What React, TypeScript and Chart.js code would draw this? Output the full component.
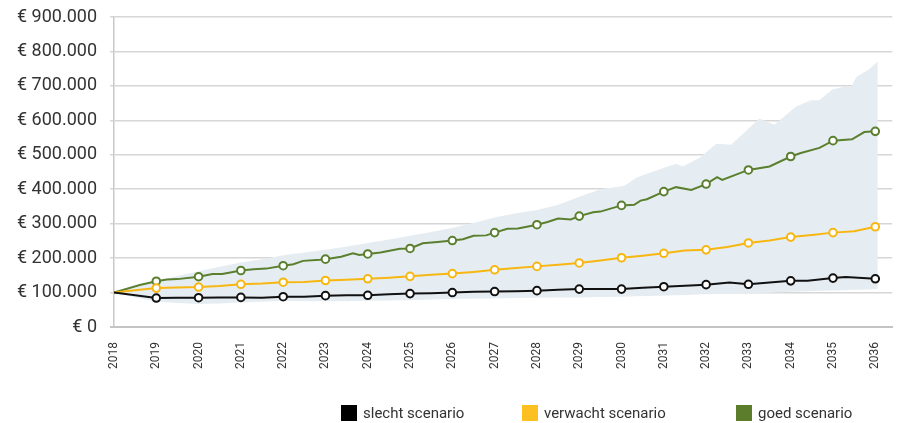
import React, { useEffect, useRef } from "react";
import { Chart, registerables } from "chart.js";

Chart.register(...registerables);

// ---- Data (values in thousands of euro) ----
const yearTicks = [2018, 2019, 2020, 2021, 2022, 2023, 2024, 2025, 2026, 2027, 2028, 2029, 2030, 2031, 2032, 2033, 2034, 2035, 2036];
const yAxisTicks = [0, 100000, 200000, 300000, 400000, 500000, 600000, 700000, 800000, 900000];

const slechtYears = [2018, 2019, 2019.5, 2020, 2020.5, 2021, 2021.5, 2022, 2022.5, 2023, 2023.5, 2024, 2024.5, 2025, 2025.5, 2026, 2026.5, 2027, 2027.5, 2028, 2028.5, 2029, 2029.5, 2030, 2030.5, 2031, 2031.5, 2032, 2032.55, 2033, 2033.5, 2034, 2034.4, 2035, 2035.3, 2036];
const slechtValues = [100, 84, 85, 85, 86, 86, 85, 88, 88, 91, 92, 92, 95, 97, 98, 100, 102, 103, 104, 105.5, 108, 110, 110, 110, 114, 117, 120, 123, 129, 124, 129, 134, 134, 142, 145, 140];

const verwachtYears = [2018, 2019, 2020, 2020.5, 2021, 2021.5, 2022, 2022.5, 2023, 2023.5, 2024, 2024.5, 2025, 2025.5, 2026, 2026.5, 2027, 2027.5, 2028, 2028.5, 2029, 2029.5, 2030, 2030.5, 2031, 2031.5, 2032, 2032.5, 2033, 2033.5, 2034, 2034.5, 2035, 2035.5, 2036];
const verwachtValues = [100, 113, 116, 119, 124, 126, 130, 131, 135, 137, 140, 143, 147, 152, 155, 160, 166, 171, 176, 181, 186, 193, 201, 207, 214, 222, 224, 232, 244, 251, 261, 267, 274, 278, 291];

const goedYears = [2018, 2018.61, 2019, 2019.25, 2019.5, 2020, 2020.33, 2020.56, 2021, 2021.3, 2021.6, 2022, 2022.24, 2022.47, 2022.87, 2023, 2023.37, 2023.65, 2023.8, 2024, 2024.3, 2024.76, 2025, 2025.3, 2025.65, 2026, 2026.25, 2026.5, 2026.8, 2027, 2027.3, 2027.55, 2028, 2028.25, 2028.5, 2028.8, 2029, 2029.33, 2029.5, 2030, 2030.3, 2030.45, 2030.6, 2031, 2031.29, 2031.65, 2032, 2032.26, 2032.38, 2033, 2033.5, 2034, 2034.24, 2034.68, 2035, 2035.45, 2035.74, 2036];
const goedValues = [100, 122, 133, 138, 139, 146, 154, 154, 164, 168, 169.5, 178, 182, 192, 195, 197, 204, 214, 209, 212, 216, 227, 228, 243, 247, 251, 255, 265, 266, 274, 285, 286, 297, 305, 315, 312, 322, 333, 335, 353, 355, 367, 371, 393, 406, 398, 415, 435, 427, 456, 466, 495, 505, 520, 541, 545, 566, 568];

const bandYears = [2018, 2018.5, 2019, 2019.5, 2020, 2020.5, 2021, 2021.5, 2022, 2022.5, 2023, 2023.5, 2024, 2024.5, 2025, 2025.5, 2026, 2026.5, 2027, 2027.5, 2028, 2028.5, 2029, 2029.5, 2030.07, 2030.35, 2030.66, 2031.29, 2031.44, 2031.84, 2032.24, 2032.59, 2033.26, 2033.61, 2034.13, 2034.48, 2034.67, 2034.98, 2035.31, 2035.43, 2035.55, 2035.86, 2036.06];
const bandUpper = [100, 115, 132, 148, 162, 175, 187, 197, 208, 216, 224, 234, 244, 254, 265, 276, 288, 302, 318, 330, 340, 355, 378, 400, 410, 433, 448, 474, 466, 491, 532, 529, 605, 587, 640, 658, 658, 689, 700, 697, 726, 749, 771];
const bandLower = [100, 86, 74, 70, 67, 68, 71, 73, 76, 75, 75, 75, 76, 77, 78, 80, 81, 82, 83, 84, 85, 86, 86, 87, 88, 89, 90, 92, 92, 94, 96, 97, 99, 100, 103, 104, 105, 106, 107, 108, 108, 109, 110];

const seriesNames = ["slecht scenario", "verwacht scenario", "goed scenario"];
const seriesColors = ["#111111", "#f7b710", "#5a7f2e"];
const legendColors = ["#000000", "#fcc020", "#5b7d2c"];

const toPoints = (xs: number[], ys: number[]) => xs.map((x, i) => ({ x, y: ys[i] * 1000 }));

const fmtEuro = (v: number) => {
  if (v === 0) return "€ 0";
  const s = Math.round(v).toString().replace(/\B(?=(\d{3})+(?!\d))/g, ".");
  return "€ " + s;
};

const FONT = "Roboto, 'DejaVu Sans', sans-serif";

export default function App() {
  const canvasRef = useRef<HTMLCanvasElement | null>(null);

  useEffect(() => {
    document.body.style.margin = "0";
    const canvas = canvasRef.current;
    if (!canvas) return;

    const markerRadius = (ctx: any) => {
      const raw = ctx.raw as { x: number } | undefined;
      if (!raw) return 0;
      return Number.isInteger(raw.x) && raw.x > 2018 ? 3.8 : 0;
    };

    const lineDs = (idx: number, xs: number[], ys: number[]) => ({
      label: seriesNames[idx],
      data: toPoints(xs, ys),
      borderColor: seriesColors[idx],
      backgroundColor: "#ffffff",
      borderWidth: 2,
      pointRadius: markerRadius,
      pointHoverRadius: markerRadius,
      pointBorderWidth: 2,
      pointBorderColor: seriesColors[idx],
      pointBackgroundColor: "#ffffff",
      tension: 0,
      fill: false,
    });

    const chart = new Chart(canvas, {
      type: "line",
      data: {
        datasets: [
          lineDs(0, slechtYears, slechtValues),
          lineDs(1, verwachtYears, verwachtValues),
          lineDs(2, goedYears, goedValues),
          {
            label: "band upper",
            data: toPoints(bandYears, bandUpper),
            borderWidth: 0,
            borderColor: "rgba(0,0,0,0)",
            pointRadius: 0,
            backgroundColor: "#e6edf2",
            fill: 4,
            tension: 0,
          },
          {
            label: "band lower",
            data: toPoints(bandYears, bandLower),
            borderWidth: 0,
            borderColor: "rgba(0,0,0,0)",
            pointRadius: 0,
            fill: false,
            tension: 0,
          },
        ],
      },
      options: {
        animation: false,
        responsive: false,
        maintainAspectRatio: false,
        events: [],
        layout: { padding: { top: 17, right: 5, left: 0, bottom: 0 } },
        plugins: {
          legend: { display: false },
          tooltip: { enabled: false },
        },
        scales: {
          x: {
            type: "linear",
            min: 2018,
            max: 2036.4,
            afterBuildTicks: (axis: any) => {
              axis.ticks = yearTicks.map((v) => ({ value: v }));
            },
            afterFit: (axis: any) => {
              axis.height = 96;
              axis.paddingLeft = 0;
              axis.paddingRight = 0;
            },
            grid: { display: true, color: "rgba(0,0,0,0)", drawTicks: false },
            border: { display: true, color: "#c4c4c4", width: 2 },
            ticks: {
              autoSkip: false,
              minRotation: 90,
              maxRotation: 90,
              padding: 15,
              color: "#333333",
              font: { family: FONT, size: 12 },
              callback: (v: any) => String(v),
            },
          },
          y: {
            type: "linear",
            min: 0,
            max: 900000,
            afterBuildTicks: (axis: any) => {
              axis.ticks = yAxisTicks.map((v) => ({ value: v }));
            },
            afterFit: (axis: any) => {
              axis.width = 114;
              axis.paddingTop = 0;
              axis.paddingBottom = 0;
            },
            grid: {
              color: (ctx: any) => (ctx.tick && ctx.tick.value === 0 ? "#c4c4c4" : "#d6d6d6"),
              lineWidth: (ctx: any) => (ctx.tick && ctx.tick.value === 0 ? 2 : 1.5),
              tickLength: 4,
              drawTicks: true,
            },
            border: { display: true, color: "#c8c8c8", width: 1.5 },
            ticks: {
              padding: 13,
              color: "#333333",
              font: { family: FONT, size: 18 },
              callback: (v: any) => fmtEuro(Number(v)),
            },
          },
        },
      },
    } as any);

    return () => {
      chart.destroy();
    };
  }, []);

  const legendLefts = [341, 522, 736];

  return (
    <div style={{ position: "relative", width: 898, height: 423, overflow: "hidden", background: "#ffffff" }}>
      <canvas ref={canvasRef} width={898} height={423} style={{ display: "block", width: 898, height: 423 }} />
      {seriesNames.map((name, i) => (
        <div
          key={name}
          style={{
            position: "absolute",
            left: legendLefts[i],
            top: 405,
            display: "flex",
            alignItems: "center",
            fontFamily: FONT,
            fontSize: 15,
            color: "#333333",
            lineHeight: "16px",
            whiteSpace: "nowrap",
          }}
        >
          <span style={{ display: "inline-block", width: 16, height: 16, background: legendColors[i], marginRight: 6 }} />
          <span>{name}</span>
        </div>
      ))}
    </div>
  );
}
